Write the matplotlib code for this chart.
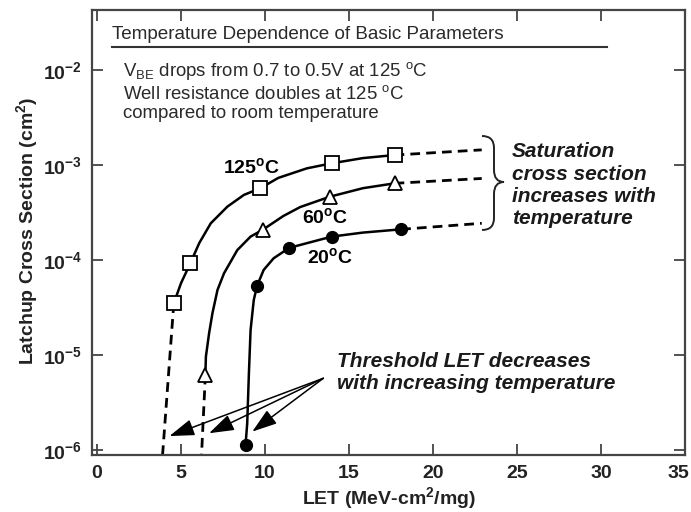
import matplotlib.pyplot as plt
from matplotlib.path import Path
from matplotlib.patches import PathPatch
from matplotlib.lines import Line2D
from matplotlib.transforms import ScaledTranslation

plt.rcParams['font.family'] = ['Liberation Sans', 'DejaVu Sans']
plt.rcParams['mathtext.fontset'] = 'custom'
plt.rcParams['mathtext.rm'] = 'Liberation Sans'
plt.rcParams['mathtext.bf'] = 'Liberation Sans:bold'
plt.rcParams['mathtext.it'] = 'Liberation Sans:italic'

# measured points (LET, cross section)
let_125 = [4.57, 5.55, 9.73, 13.97, 17.71]
xs_125 = [3.5e-5, 9.2e-5, 5.7e-4, 1.04e-3, 1.27e-3]
let_60 = [6.45, 9.85, 13.86, 17.71]
xs_60 = [6.2e-6, 2.07e-4, 4.63e-4, 6.4e-4]
let_20 = [8.84, 9.53, 11.44, 13.97, 18.1]
xs_20 = [1.13e-6, 5.37e-5, 1.34e-4, 1.76e-4, 2.1e-4]

# solid fit curves
curve_let_125 = [4.57, 5.0, 5.55, 6.08, 6.77, 7.76, 8.74, 9.73, 10.79, 12.49, 13.97, 15.83, 17.71]
curve_xs_125 = [3.5e-5, 5.7e-5, 9.2e-5, 1.5e-4, 2.43e-4, 3.64e-4, 4.83e-4, 5.7e-4,
                7.3e-4, 9.2e-4, 1.04e-3, 1.18e-3, 1.27e-3]
curve_let_60 = [6.45, 6.48, 6.67, 6.87, 7.17, 7.56, 8.35, 9.14, 9.85, 11.09, 12.09, 13.86, 15.83, 17.71]
curve_xs_60 = [6.2e-6, 9.6e-6, 1.69e-5, 2.75e-5, 4.83e-5, 7.24e-5, 1.27e-4, 1.76e-4, 2.07e-4,
               2.9e-4, 3.6e-4, 4.63e-4, 5.69e-4, 6.4e-4]
curve_let_20 = [8.84, 8.94, 9.04, 9.14, 9.33, 9.53, 9.92, 10.51, 11.44, 13.97, 15.83, 18.1]
curve_xs_20 = [1.13e-6, 1.91e-6, 6.41e-6, 1.83e-5, 3.79e-5, 5.37e-5, 7.85e-5, 1.04e-4,
               1.34e-4, 1.76e-4, 1.94e-4, 2.1e-4]

# dashed extrapolations
sat_end_let = 22.9
sat_end_xs = [1.44e-3, 7.2e-4, 2.43e-4]
thr_end_let = [3.9, 6.22]
thr_end_xs = 8.85e-7

# arrows for threshold note
arrow_from = (13.47, 5.68e-6)
arrow_tips_let = [4.31, 6.67, 9.24]
arrow_tips_xs = [1.40e-6, 1.50e-6, 1.56e-6]

xticks = [0, 5, 10, 15, 20, 25, 30, 35]
yticks = [1e-6, 1e-5, 1e-4, 1e-3, 1e-2]
ytick_labels = [r'$\mathbf{10^{-6}}$', r'$\mathbf{10^{-5}}$', r'$\mathbf{10^{-4}}$',
                r'$\mathbf{10^{-3}}$', r'$\mathbf{10^{-2}}$']

W, H = 691, 512


def fx(px):
    return px / W


def fy(py):
    return 1 - py / H


fig = plt.figure(figsize=(6.91, 5.12), dpi=100)
ax = fig.add_axes([fx(92), fy(455), fx(685) - fx(92), fy(10) - fy(455)])
ax.set_yscale('log')
ax.set_xlim(-0.3, 35.0)
ax.set_ylim(8.85e-7, 4.27e-2)

# solid curves
for cl, cx in [(curve_let_125, curve_xs_125), (curve_let_60, curve_xs_60), (curve_let_20, curve_xs_20)]:
    ax.plot(cl, cx, color='black', lw=1.8, solid_joinstyle='round', zorder=2)

# dashed lines
dash = (0, (3.5, 2.2))
lasts = [(let_125[-1], xs_125[-1]), (let_60[-1], xs_60[-1]), (let_20[-1], xs_20[-1])]
for (l0, x0), xe in zip(lasts, sat_end_xs):
    ax.plot([l0, sat_end_let], [x0, xe], color='black', lw=2, linestyle=dash, zorder=1)
firsts = [(let_125[0], xs_125[0]), (let_60[0], xs_60[0])]
for (l0, x0), le in zip(firsts, thr_end_let):
    ax.plot([l0, le], [x0, thr_end_xs], color='black', lw=2, linestyle=dash, zorder=1)

# markers
ax.plot(let_125, xs_125, linestyle='none', marker='s', ms=10, mfc='white', mec='black', mew=1.3, zorder=3)
ax.plot(let_60, xs_60, linestyle='none', marker='^', ms=10, mfc='white', mec='black', mew=1.3, zorder=3)
ax.plot(let_20, xs_20, linestyle='none', marker='o', ms=8.5, mfc='black', mec='black', zorder=3)

# arrows
for tl, tx in zip(arrow_tips_let, arrow_tips_xs):
    ax.annotate('', xy=(tl, tx), xytext=arrow_from,
                arrowprops=dict(arrowstyle='-|>,head_length=0.9,head_width=0.3',
                                mutation_scale=17, lw=1.1, color='black',
                                shrinkA=0, shrinkB=0))

# axes styling
for s in ax.spines.values():
    s.set_color('#444444')
    s.set_linewidth(1.6)
ax.set_xticks(xticks)
ax.set_xticklabels([str(t) for t in xticks])
ax.set_yticks(yticks)
ax.set_yticklabels(ytick_labels)
ax.minorticks_off()
ax.tick_params(direction='in', length=8, width=1.3, color='#444444',
               top=True, right=True, labelsize=14, pad=7)
for lab in ax.get_xticklabels():
    lab.set_fontweight('bold')
    lab.set_color('#222222')
for lab in ax.get_yticklabels():
    lab.set_color('#222222')
# keep the last x label inside the canvas
last = ax.xaxis.get_major_ticks()[-1].label1
last.set_transform(last.get_transform() + ScaledTranslation(-0.07, 0, fig.dpi_scale_trans))

ax.set_xlabel('LET (MeV-cm$^{\\mathbf{2}}$/mg)', fontsize=14, fontweight='bold', color='#222222')
ax.xaxis.set_label_coords(0.5, -0.097)
ax.xaxis.label.set_va('center')
ax.set_ylabel('Latchup Cross Section (cm$^{\\mathbf{2}}$)', fontsize=14, fontweight='bold', color='#222222')
ax.yaxis.set_label_coords(-0.110, 0.503)
ax.yaxis.label.set_va('center')

# parameter box text
tc = '#2a2a2a'
fig.text(fx(112), fy(39), 'Temperature Dependence of Basic Parameters', fontsize=13.6, color=tc, va='baseline')
fig.add_artist(Line2D([fx(112), fx(607)], [fy(47), fy(47)], color='#333333', lw=1.5))
fig.text(fx(123), fy(76), 'V$_{\\mathrm{BE}}$ drops from 0.7 to 0.5V at 125 $^{\\mathrm{o}}$C',
         fontsize=13.4, color=tc, va='baseline')
fig.text(fx(123), fy(99), 'Well resistance doubles at 125 $^{\\mathrm{o}}$C', fontsize=13.4, color=tc, va='baseline')
fig.text(fx(123), fy(118), 'compared to room temperature', fontsize=13.4, color=tc, va='baseline')

# curve labels
fig.text(fx(223), fy(173), '125$^{\\mathbf{o}}$C', fontsize=14, fontweight='bold', va='baseline')
fig.text(fx(302), fy(223), '60$^{\\mathbf{o}}$C', fontsize=14, fontweight='bold', va='baseline')
fig.text(fx(307), fy(263), '20$^{\\mathbf{o}}$C', fontsize=14, fontweight='bold', va='baseline')

# saturation note with brace
sat_lines = ['Saturation', 'cross section', 'increases with', 'temperature']
sat_base = [157, 180, 202, 224]
for txt, b in zip(sat_lines, sat_base):
    fig.text(fx(512), fy(b), txt, fontsize=15, fontweight='bold', style='italic',
             color='#1a1a1a', va='baseline')

brace_px = [(482, 136), (494, 136), (494, 148), (494, 170), (494, 182), (504, 182),
            (494, 182), (494, 194), (494, 218), (494, 230), (482, 230)]
codes = [Path.MOVETO, Path.CURVE3, Path.CURVE3, Path.LINETO, Path.CURVE3, Path.CURVE3,
         Path.CURVE3, Path.CURVE3, Path.LINETO, Path.CURVE3, Path.CURVE3]
brace = Path([(fx(x), fy(y)) for x, y in brace_px], codes)
fig.add_artist(PathPatch(brace, transform=fig.transFigure, fill=False, lw=1.4, edgecolor='#222222'))

# threshold note
fig.text(fx(337), fy(367), 'Threshold LET decreases', fontsize=15, fontweight='bold',
         style='italic', color='#1a1a1a', va='baseline')
fig.text(fx(337), fy(389), 'with increasing temperature', fontsize=15, fontweight='bold',
         style='italic', color='#1a1a1a', va='baseline')

fig.savefig('out.png', dpi=100)
